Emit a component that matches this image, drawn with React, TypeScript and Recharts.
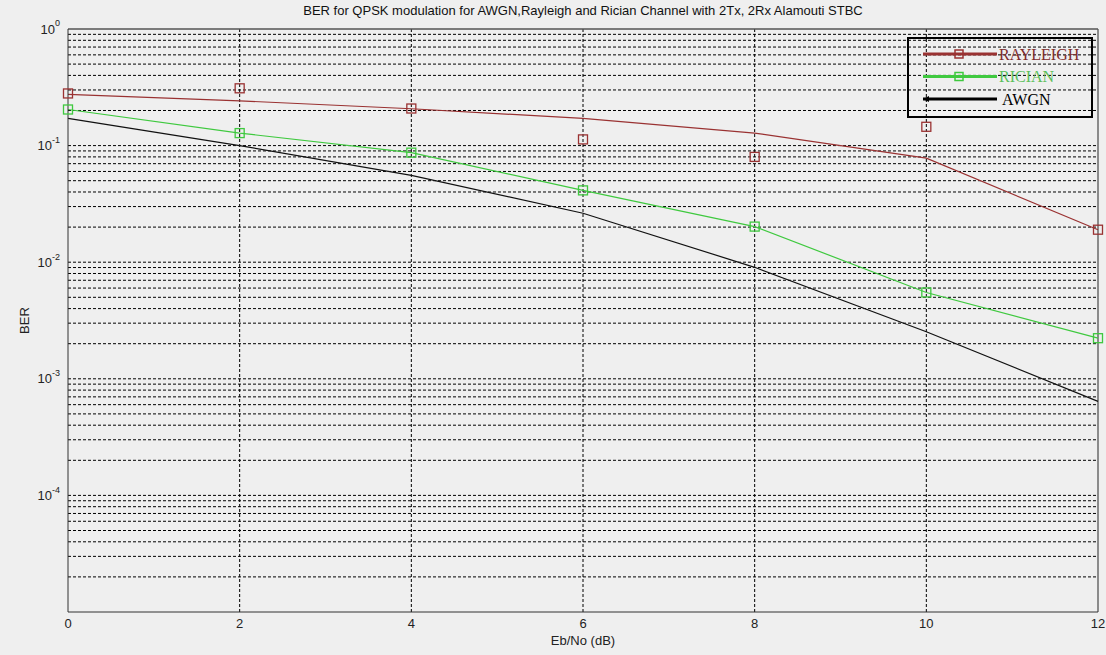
import React from 'react';
import { ComposedChart, Line, XAxis, YAxis, ReferenceLine, Legend } from 'recharts';

const ebno = [0, 2, 4, 6, 8, 10, 12];
const rayleighTheory = [0.275, 0.242, 0.207, 0.171, 0.128, 0.078, 0.019];
const rayleighSim = [0.28, 0.31, 0.208, 0.113, 0.08, 0.145, 0.019];
const ricianBer = [0.204, 0.128, 0.087, 0.0413, 0.0202, 0.0055, 0.00223];
const awgnBer = [0.171, 0.0999, 0.0555, 0.0263, 0.00904, 0.00253, 0.00064];

const xTicks = [0, 2, 4, 6, 8, 10, 12];
const yTicks = [1e-4, 1e-3, 1e-2, 1e-1, 1];
const decades = [-5, -4, -3, -2, -1];
const mantissas = [1, 2, 3, 4, 5, 6, 7, 8, 9];
const xGrid = [2, 4, 6, 8, 10];

const RED = '#9a3232';
const GREEN = '#3fc93f';
const BG = '#efefef';
const SANS = "'Liberation Sans', Arial, sans-serif";

const data = ebno.map((x, i) => ({
  ebno: x,
  rayleighTheory: rayleighTheory[i],
  rayleighSim: rayleighSim[i],
  rician: ricianBer[i],
  awgn: awgnBer[i],
}));

const yGrid: number[] = [];
decades.forEach((d) => mantissas.forEach((m) => {
  const v = m * Math.pow(10, d);
  if (v > 1e-5 * 1.0001) yGrid.push(v);
}));

const legendItems = [
  { name: 'RAYLEIGH', color: RED, text: '#7e2c2c', marker: true },
  { name: 'RICIAN', color: GREEN, text: '#5cbf5c', marker: true },
  { name: 'AWGN', color: '#000', text: '#000', marker: false },
];

const squareDot = (color: string) => (props: any) => {
  const { cx, cy, index } = props;
  if (cx == null || cy == null) return <g key={index} />;
  return <rect key={index} x={cx - 4.5} y={cy - 4.5} width={9} height={9} fill="none" stroke={color} strokeWidth={1.3} />;
};

const YTick = (props: any) => {
  const { x, y, payload } = props;
  const exp = Math.round(Math.log10(payload.value));
  return (
    <text x={x} y={y} textAnchor="end" fontFamily={SANS} fontSize={13} fill="#222">
      <tspan dy="0.35em">10</tspan>
      <tspan dy="-0.8em" fontSize={9}>{String(exp)}</tspan>
    </text>
  );
};

const LegendBox = () => (
  <svg width={186} height={81} style={{ display: 'block' }}>
    <rect x={1} y={1} width={184} height={79} fill="none" stroke="#000" strokeWidth={2} />
    {legendItems.map((it, i) => {
      const cy = 17 + i * 22.5;
      return (
        <g key={it.name}>
          <line x1={16} x2={90} y1={cy} y2={cy} stroke={it.color} strokeWidth={3} />
          {!it.marker && <path d={`M16 ${cy} l6 -3 v6 z`} fill={it.color} />}
          {it.marker && <rect x={48} y={cy - 4} width={8} height={8} fill="none" stroke={it.color} strokeWidth={1.5} />}
          <text x={it.marker ? 92 : 95} y={cy} dy="0.35em" fontFamily="'Liberation Serif', 'Times New Roman', serif" fontSize={16} fill={it.text}>{it.name}</text>
        </g>
      );
    })}
  </svg>
);

export default function App() {
  return (
    <div style={{ position: 'absolute', left: 0, top: 0, width: 1106, height: 655, background: BG, overflow: 'hidden' }}>
      <div style={{ position: 'absolute', left: 0, top: 3, width: 1166, textAlign: 'center', fontFamily: SANS, fontSize: 13, color: '#111' }}>
        BER for QPSK modulation for AWGN,Rayleigh and Rician Channel with 2Tx, 2Rx Alamouti STBC
      </div>
      <ComposedChart width={1106} height={655} data={data} margin={{ top: 29, right: 8, bottom: 3, left: 18 }} style={{ position: 'absolute', left: 0, top: 0 }}>
        <XAxis
          dataKey="ebno"
          type="number"
          domain={[0, 12]}
          ticks={xTicks}
          height={40}
          tickLine={false}
          tickSize={0}
          tickMargin={7}
          stroke="#333"
          tick={{ fill: '#222', fontSize: 13, fontFamily: SANS }}
          label={{ value: 'Eb/No (dB)', position: 'insideBottom', offset: 7, fill: '#222', fontSize: 13, fontFamily: SANS }}
        />
        <YAxis
          type="number"
          scale="log"
          domain={[1e-5, 1]}
          allowDataOverflow
          ticks={yTicks}
          width={50}
          tickLine={false}
          tickSize={0}
          tickMargin={8}
          stroke="#333"
          tick={<YTick />}
          label={{ value: 'BER', angle: -90, position: 'insideLeft', offset: 6, style: { textAnchor: 'middle' }, fill: '#222', fontSize: 13, fontFamily: SANS }}
        />
        {yGrid.map((v) => (
          <ReferenceLine key={'h' + v} y={v} stroke="#000" strokeWidth={1} strokeDasharray="3 2" />
        ))}
        {xGrid.map((v) => (
          <ReferenceLine key={'v' + v} x={v} stroke="#000" strokeWidth={1} strokeDasharray="3 2" />
        ))}
        <ReferenceLine y={1} stroke="#555" strokeWidth={1.3} />
        <ReferenceLine x={12} stroke="#555" strokeWidth={1.3} />
        <Legend layout="horizontal" verticalAlign="middle" align="center" content={<LegendBox />} wrapperStyle={{ position: 'absolute', left: 907, top: 37, width: 186, height: 81 }} />
        <Line dataKey="awgn" stroke="#111" strokeWidth={1.2} dot={false} isAnimationActive={false} />
        <Line dataKey="rayleighTheory" stroke={RED} strokeWidth={1.2} dot={false} isAnimationActive={false} />
        <Line dataKey="rayleighSim" stroke="none" strokeWidth={0} dot={squareDot(RED)} isAnimationActive={false} />
        <Line dataKey="rician" stroke={GREEN} strokeWidth={1.2} dot={squareDot(GREEN)} isAnimationActive={false} />
      </ComposedChart>
    </div>
  );
}
